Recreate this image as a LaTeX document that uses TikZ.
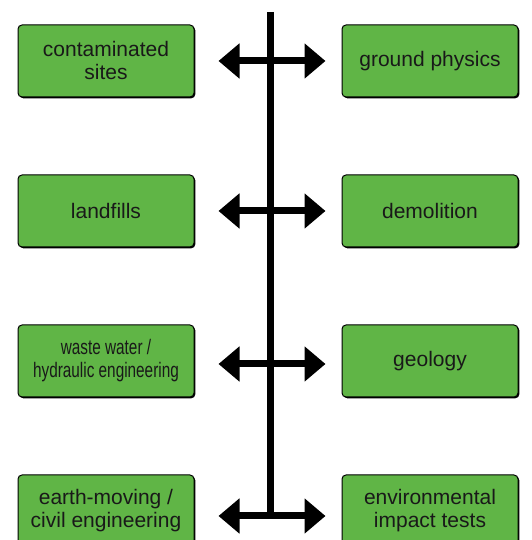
\documentclass[tikz,border=0pt]{standalone}
\usepackage{fontspec}
\setmainfont{Liberation Sans}
\newfontfamily\narrowfont[FakeStretch=0.73]{Liberation Sans}
\usetikzlibrary{positioning,arrows.meta,shadows}
\definecolor{boxgreen}{RGB}{96,181,70}

\begin{document}
\begin{tikzpicture}[x=1pt,y=1pt,node distance=77pt and 147pt]
  \tikzset{field/.style={draw=black,line width=1pt,fill=boxgreen,rounded corners=4pt,
      minimum width=176pt,minimum height=72pt,inner sep=0pt,align=center,
      font=\fontsize{21}{23}\selectfont,text=black!90,
      drop shadow={shadow xshift=1.3pt,shadow yshift=-1.3pt,fill=black,opacity=1}}}
  \tikzset{link/.style={{Triangle[width=34pt,length=21pt]}-{Triangle[width=34pt,length=21pt]},line width=7pt}}
  \useasboundingbox (0,0) rectangle (531,540);
  \node[field] (sites) at (106,479) {contaminated\\sites};
  \node[field] (physics) [right=147pt of sites] {ground physics};
  \node[field] (landfills) [below=77pt of sites] {landfills};
  \node[field] (demolition) [right=147pt of landfills] {demolition};
  \node[field] (water) [below=77pt of landfills] {\narrowfont\fontsize{21}{26}\selectfont waste water /\\\narrowfont\fontsize{21}{26}\selectfont hydraulic engineering};
  \node[field] (geology) [right=147pt of water] {geology};
  \node[field] (civil) [below=77pt of water] {earth-moving /\\civil engineering};
  \node[field] (impact) [right=147pt of civil] {environmental\\impact tests};
  \coordinate (spinetop) at (270,528);
  \coordinate (spinebot) at (270,27);
  \draw[line width=7pt] (spinetop) -- (spinebot);
  \draw[link] ([xshift=24pt]sites.east) -- ([xshift=-16pt]physics.west);
  \draw[link] ([xshift=24pt]landfills.east) -- ([xshift=-16pt]demolition.west);
  \draw[link] ([xshift=24pt,yshift=-3pt]water.east) -- ([xshift=-16pt,yshift=-3pt]geology.west);
  \draw[link] ([xshift=24pt,yshift=-5pt]civil.east) -- ([xshift=-16pt,yshift=-5pt]impact.west);
\end{tikzpicture}
\end{document}
